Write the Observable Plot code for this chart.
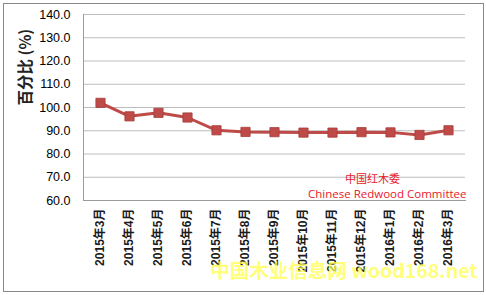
<!DOCTYPE html>
<html><head><meta charset="utf-8">
<script src="https://cdn.jsdelivr.net/npm/d3@7"></script>
<script src="https://cdn.jsdelivr.net/npm/@observablehq/plot@0.6"></script>
<style>
html,body{margin:0;padding:0;background:#fff;}
#wrap{position:relative;width:486px;height:295px;overflow:hidden;}
#border{position:absolute;left:3px;top:3px;width:479px;height:287px;border:1px solid #8a8a8a;pointer-events:none;}
</style></head>
<body><div id="wrap"><div id="border"></div></div>
<script>
const months = ["2015年3月","2015年4月","2015年5月","2015年6月","2015年7月","2015年8月","2015年9月","2015年10月","2015年11月","2015年12月","2016年1月","2016年2月","2016年3月"];
const values = [102.0, 96.2, 97.7, 95.7, 90.2, 89.5, 89.4, 89.2, 89.2, 89.4, 89.3, 88.2, 90.2];
const yTicks = [60,70,80,90,100,110,120,130,140];
const yLabel = "百分比 (%)";
const noteCn = "中国红木委";
const noteEn = "Chinese Redwood Committee";
const watermark = "中国木业信息网 wood168.net";

const data = months.map((m,i)=>({month:m, value:values[i]}));
const red = "#be4b48";
const font = "'Liberation Sans','Noto Sans CJK SC',sans-serif";

const chart = Plot.plot({
  width:486, height:295,
  marginLeft:83, marginRight:21, marginTop:14, marginBottom:95,
  style:{fontFamily:font, fontSize:"12px", color:"#000", background:"transparent"},
  x:{type:"point", domain:months, padding:0.5, label:null},
  y:{domain:[60,140], label:null},
  marks:[
    Plot.gridY(yTicks,{stroke:"#bdbdbd", strokeOpacity:1, strokeWidth:1}),
    Plot.axisY(yTicks,{tickFormat:d=>d.toFixed(1), tickSize:0, tickPadding:13, fontSize:12.5, label:null}),
    Plot.axisX({tickRotate:-90, tickSize:0, tickPadding:8, fontSize:12, fontWeight:"bold", fill:"#1a1a1a", label:null}),
    Plot.frame({anchor:"left", stroke:"#9a9a9a"}),
    Plot.frame({anchor:"bottom", stroke:"#9a9a9a"}),
    Plot.line(data,{x:"month", y:"value", stroke:red, strokeWidth:3}),
    Plot.dot(data,{x:"month", y:"value", symbol:"square", r:5.2, fill:red, stroke:"#a63e3b", strokeWidth:0.8}),
    Plot.text([yLabel],{text:d=>d, frameAnchor:"left", rotate:-90, dx:-57, dy:-2, fontSize:15.5, fontWeight:"bold", fontFamily:"'Noto Sans CJK SC',serif", fill:"#222"}),
    Plot.text([noteCn],{text:d=>d, frameAnchor:"bottom-right", textAnchor:"middle", dx:-93, dy:-18, fontSize:11, fill:"#e8202a", fontFamily:"'Noto Sans CJK SC',sans-serif"}),
    Plot.text([noteEn],{text:d=>d, frameAnchor:"bottom-right", textAnchor:"end", dx:1, dy:-3, fontSize:11.5, fill:"#e8202a", fontFamily:"'Open Sans','Noto Sans CJK SC',sans-serif"}),
    Plot.text([watermark],{text:d=>d, frameAnchor:"bottom-right", textAnchor:"end", dx:12, dy:77, fontSize:19.5, fontWeight:"bold", fill:"#ffff55", fillOpacity:0.8, fontFamily:"'Noto Sans CJK SC',sans-serif"})
  ]
});
document.getElementById("wrap").prepend(chart);
</script></body></html>
